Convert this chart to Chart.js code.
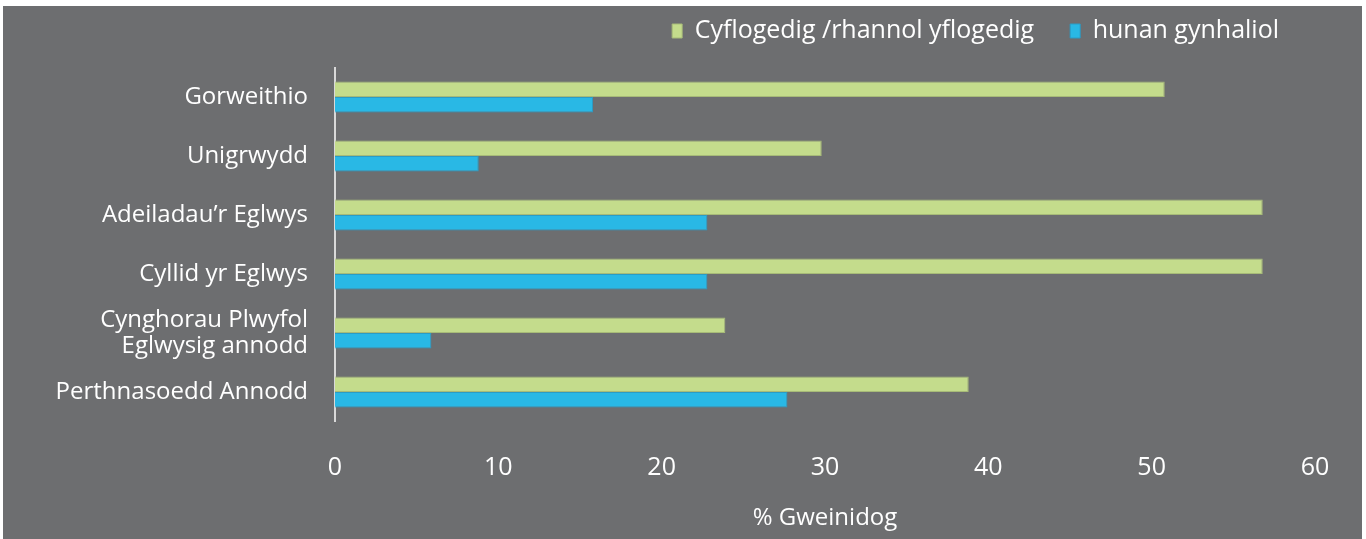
<!DOCTYPE html>
<html>
<head>
<meta charset="utf-8">
<script src="https://cdn.jsdelivr.net/npm/chart.js@4"></script>
<style>
  html, body { margin: 0; padding: 0; background: #ffffff; }
  #wrap { position: absolute; left: 3px; top: 6px; width: 1359px; height: 533px; background: #6d6e70; }
  canvas { display: block; }
</style>
</head>
<body>
<div id="wrap"><canvas id="c" width="1359" height="533"></canvas></div>
<script>
const categories = [
  'Gorweithio',
  'Unigrwydd',
  'Adeiladau\u2019r Eglwys',
  'Cyllid yr Eglwys',
  ['Cynghorau Plwyfol', 'Eglwysig annodd'],
  'Perthnasoedd Annodd'
];
const seriesNames = ['Cyflogedig /rhannol yflogedig', 'hunan gynhaliol'];
const employed = [50.8, 29.8, 56.8, 56.8, 23.9, 38.8];
const selfSupporting = [15.8, 8.8, 22.8, 22.8, 5.9, 27.7];
const xTicks = [0, 10, 20, 30, 40, 50, 60];
const xTitle = '% Gweinidog';

const FONT = 'Open Sans';

new Chart(document.getElementById('c'), {
  type: 'bar',
  data: {
    labels: categories,
    datasets: [
      {
        label: seriesNames[0],
        data: employed,
        backgroundColor: '#c4dc8c',
        borderColor: '#a7bb78',
        borderWidth: 1,
        barPercentage: 1,
        categoryPercentage: 0.525
      },
      {
        label: seriesNames[1],
        data: selfSupporting,
        backgroundColor: '#29b8e5',
        borderColor: '#2a9cc6',
        borderWidth: 1,
        barPercentage: 1,
        categoryPercentage: 0.525
      }
    ]
  },
  options: {
    indexAxis: 'y',
    responsive: false,
    animation: false,
    layout: { padding: { left: 0, right: 47, top: -23.5, bottom: 0 } },
    plugins: {
      tooltip: { enabled: false },
      legend: {
        position: 'top',
        align: 'end',
        labels: {
          color: '#ffffff',
          font: { family: FONT, size: 25 },
          boxWidth: 10,
          boxHeight: 14,
          padding: 36
        }
      },
      title: {
        display: true,
        text: '',
        weight: 500,
        font: { size: 10, lineHeight: 1.41 },
        padding: 0
      }
    },
    scales: {
      x: {
        min: 0,
        max: 60,
        afterBuildTicks: (scale) => { scale.ticks = xTicks.map(v => ({ value: v })); },
        afterFit: (scale) => { scale.height = 117.4; },
        grid: { display: false, drawTicks: false },
        border: { display: false },
        ticks: {
          color: '#ffffff',
          font: { family: FONT, size: 25 },
          padding: 31
        },
        title: {
          display: true,
          text: xTitle,
          color: '#ffffff',
          font: { family: FONT, size: 24 },
          padding: { top: 0, bottom: 6 }
        }
      },
      y: {
        afterFit: (scale) => { scale.width = 332; },
        grid: { display: false, drawTicks: false },
        border: { display: true, color: '#d9d9d9', width: 2 },
        ticks: {
          color: '#ffffff',
          font: { family: FONT, size: 24, lineHeight: 1.1 },
          padding: 27
        }
      }
    }
  }
});
</script>
</body>
</html>
